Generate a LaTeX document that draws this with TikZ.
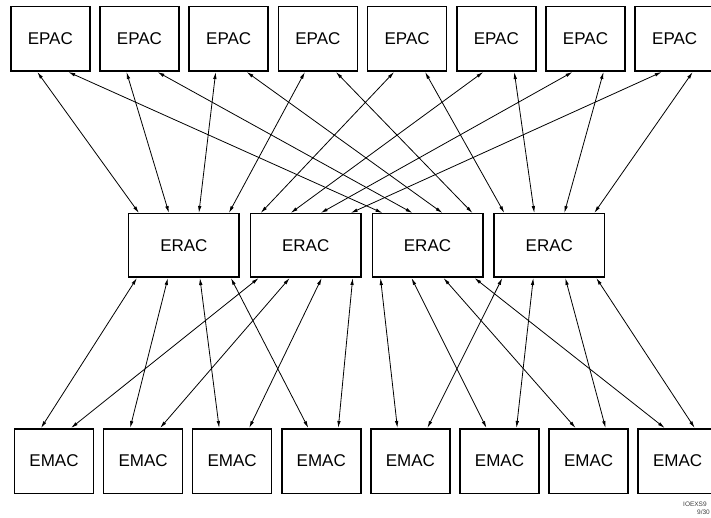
\documentclass[tikz,border=0pt]{standalone}
\usepackage{fontspec}
\setmainfont{Liberation Sans}
\usetikzlibrary{arrows.meta}
\begin{document}
\begin{tikzpicture}[x=1pt,y=-1pt,
  boxnode/.style={draw,line width=1.5pt,minimum width=79pt,minimum height=64.5pt,inner sep=0pt,font=\fontsize{17}{17}\selectfont},
  widebox/.style={boxnode,minimum width=110.5pt,minimum height=63.5pt},
  link/.style={line width=0.8pt,{Latex[length=7pt,width=3.5pt]}-{Latex[length=7pt,width=3.5pt]}},
  tagtext/.style={font=\fontsize{6.5}{6.5}\selectfont,anchor=west,inner sep=0pt,text=black!75}]
\useasboundingbox[fill=white] (0,0) rectangle (711,518);
% EPAC row
\foreach \i/\x in {1/50.3,2/139.5,3/228.7,4/317.9,5/407.1,6/496.3,7/585.5,8/674.7}
  \node[boxnode] (p\i) at (\x,39) {EPAC};
% ERAC row
\foreach \i/\x in {1/183.9,2/305.7,3/427.5,4/549.3}
  \node[widebox] (r\i) at (\x,245.5) {ERAC};
% EMAC row
\foreach \i/\x in {1/54,2/143.1,3/232.2,4/321.3,5/410.4,6/499.5,7/588.6,8/677.7}
  \node[boxnode] (m\i) at (\x,461) {EMAC};
% top links
\foreach \i/\o in {1/-45,2/-15,3/15,4/45} {
  \draw[link] ([xshift=-13pt]p\i.south) -- ([xshift=\o pt]r1.north);
  \draw[link] ([xshift=18pt]p\i.south) -- ([xshift=\o pt]r3.north);
}
\foreach \i/\o in {5/-45,6/-15,7/15,8/45} {
  \draw[link] ([xshift=-13pt]p\i.south) -- ([xshift=\o pt]r2.north);
  \draw[link] ([xshift=18pt]p\i.south) -- ([xshift=\o pt]r4.north);
}
% bottom links
\foreach \i/\o in {1/-47,2/-16,3/16,4/47} {
  \draw[link] ([xshift=\o pt]r1.south) -- ([xshift=-13pt]m\i.north);
  \draw[link] ([xshift=\o pt]r2.south) -- ([xshift=17pt]m\i.north);
}
\foreach \i/\o in {5/-47,6/-16,7/16,8/47} {
  \draw[link] ([xshift=\o pt]r3.south) -- ([xshift=-13pt]m\i.north);
  \draw[link] ([xshift=\o pt]r4.south) -- ([xshift=17pt]m\i.north);
}
% corner tag
\node[tagtext] (tag1) at (683,504) {IOEXS9};
\node[tagtext] (tag2) at (697,512) {9/30};
\end{tikzpicture}
\end{document}
